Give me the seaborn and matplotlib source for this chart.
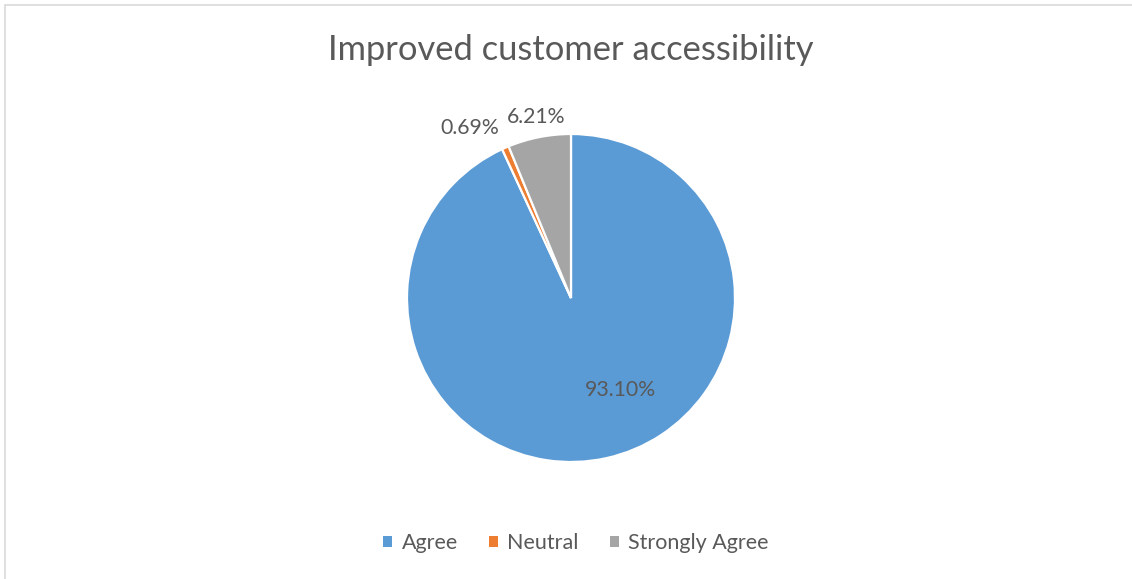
import matplotlib
matplotlib.use("Agg")
import matplotlib.pyplot as plt
import seaborn as sns
from matplotlib.patches import Rectangle

categories = ["Agree", "Neutral", "Strongly Agree"]
shares = [93.10, 0.69, 6.21]
label_texts = ["93.10%", "0.69%", "6.21%"]
slice_colors = ["#5B9BD5", "#ED7D31", "#A5A5A5"]

sns.set_theme(style="white")
plt.rcParams["font.family"] = ["Lato", "DejaVu Sans"]
text_color = "#595959"

fig = plt.figure(figsize=(11.32, 5.79), dpi=100)
fig.patch.set_facecolor("white")

# chart frame
fig.patches.append(Rectangle((5 / 1132, -0.05), 1.2, (579 - 5) / 579 + 0.05,
                             transform=fig.transFigure, fill=False,
                             edgecolor="#D9D9D9", linewidth=1.2))

ax = fig.add_axes([407 / 1132, 117 / 579, 328 / 1132, 328 / 579])
wedges, _ = ax.pie(shares, colors=slice_colors, startangle=90, counterclock=False,
                   radius=1.0,
                   wedgeprops=dict(edgecolor="white", linewidth=1.6))
ax.set_xlim(-1, 1)
ax.set_ylim(-1, 1)
ax.set_aspect("auto")
ax.axis("off")

label_pos = [(0.30, -0.56), (-0.616, 1.037), (-0.213, 1.104)]
for txt, (x, y) in zip(label_texts, label_pos):
    ax.text(x, y, txt, ha="center", va="center", fontsize=15.3, color=text_color,
            clip_on=False)

fig.text(571 / 1132, 1 - 50 / 579, "Improved customer accessibility",
         ha="center", va="center", fontsize=24.8, color=text_color)

leg = fig.legend(wedges, categories, loc="center", bbox_to_anchor=(576 / 1132, 36 / 579),
                 ncol=3, frameon=False, fontsize=15.5, handlelength=0.4,
                 handleheight=0.4, handletextpad=0.45, columnspacing=1.45)
for t in leg.get_texts():
    t.set_color(text_color)
for h in leg.legend_handles:
    h.set_edgecolor("none")

fig.savefig("out.png", dpi=100, facecolor="white")
